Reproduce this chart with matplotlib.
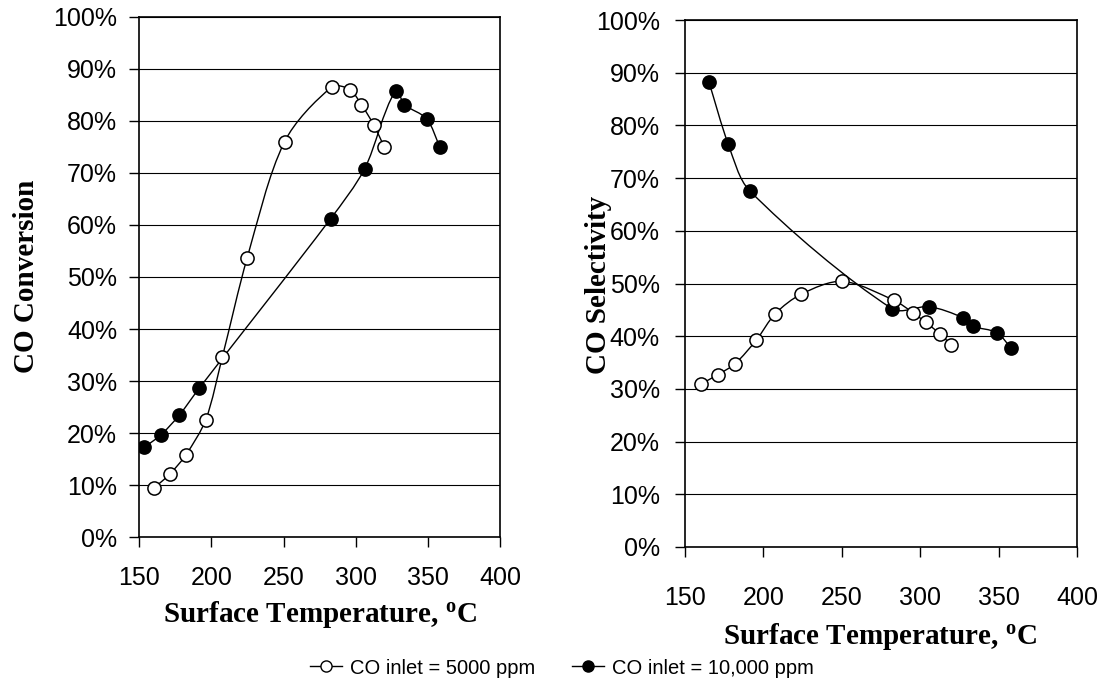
import numpy as np
import matplotlib.pyplot as plt
from matplotlib.path import Path
from matplotlib.patches import PathPatch
from matplotlib.lines import Line2D
from matplotlib.ticker import PercentFormatter

# CO conversion (left panel)
conv_t_5000 = [159.9, 171.0, 182.2, 196.1, 207.6, 224.8, 250.7, 283.5, 295.8, 304.0, 312.5, 319.9]
conv_5000 = [9.4, 12.1, 15.8, 22.6, 34.7, 53.7, 76.0, 86.5, 86.0, 83.1, 79.2, 74.9]
conv_t_10000 = [153.5, 165.1, 177.8, 191.7, 282.6, 306.2, 327.6, 333.8, 349.1, 358.3]
conv_10000 = [17.3, 19.7, 23.5, 28.7, 61.2, 70.8, 85.8, 83.1, 80.4, 75.0]

# CO selectivity (right panel)
sel_t_5000 = [160.0, 170.9, 182.0, 195.5, 207.6, 224.2, 250.3, 283.2, 295.6, 303.4, 312.3, 319.7]
sel_5000 = [30.9, 32.7, 34.8, 39.3, 44.3, 48.0, 50.4, 46.8, 44.4, 42.6, 40.5, 38.3]
sel_t_10000 = [165.2, 177.5, 191.2, 282.0, 305.6, 327.2, 333.4, 348.6, 357.7]
sel_10000 = [88.3, 76.5, 67.6, 45.2, 45.6, 43.5, 41.9, 40.7, 37.8]

labels = ['CO inlet = 5000 ppm', 'CO inlet = 10,000 ppm']

plt.rcParams['font.family'] = ['Liberation Sans', 'DejaVu Sans']


def smooth_line(ax, xs, ys, k=0.3):
    # smoothed line like excel: bezier pieces, tangents from the neighbours
    pts = ax.transData.transform(np.column_stack([xs, ys]))
    n = len(pts)
    tang = []
    for i in range(n):
        d = pts[min(i + 1, n - 1)] - pts[max(i - 1, 0)]
        tang.append(d / np.linalg.norm(d))
    verts = [pts[0]]
    codes = [Path.MOVETO]
    for i in range(n - 1):
        L = np.linalg.norm(pts[i + 1] - pts[i])
        verts += [pts[i] + tang[i] * L * k, pts[i + 1] - tang[i + 1] * L * k, pts[i + 1]]
        codes += [Path.CURVE4] * 3
    verts = ax.transData.inverted().transform(np.array(verts))
    ax.add_patch(PathPatch(Path(verts, codes), facecolor='none', edgecolor='black', lw=1.0, zorder=3))


def draw_series(ax, xs, ys, face):
    smooth_line(ax, xs, ys)
    ax.plot(xs, ys, linestyle='none', marker='o', markersize=9.5, markerfacecolor=face,
            markeredgecolor='black', markeredgewidth=1.1, zorder=4)


def setup(ax):
    ax.set_xlim(150, 400)
    ax.set_ylim(0, 100)
    ax.set_xticks(np.arange(150, 401, 50))
    ax.set_yticks(np.arange(0, 101, 10))
    ax.yaxis.set_major_formatter(PercentFormatter(100, decimals=0))
    ax.grid(axis='y', color='black', lw=0.8)
    ax.set_axisbelow(True)
    for s in ax.spines.values():
        s.set_linewidth(1.2)
    ax.tick_params(direction='out', length=7, width=1.0, labelsize=18)


fig = plt.figure(figsize=(11.06, 6.94), dpi=100)
ax1 = fig.add_axes([139.3 / 1106, 1 - 537.3 / 694, 360.7 / 1106, 520.6 / 694])
ax2 = fig.add_axes([685 / 1106, 1 - 547 / 694, 392.3 / 1106, 527 / 694])

setup(ax1)
ax1.tick_params(axis='x', pad=14)
ax1.tick_params(axis='y', pad=9)
draw_series(ax1, conv_t_10000, conv_10000, 'black')
draw_series(ax1, conv_t_5000, conv_5000, 'white')

setup(ax2)
ax2.tick_params(axis='x', pad=21)
ax2.tick_params(axis='y', pad=11)
draw_series(ax2, sel_t_10000, sel_10000, 'black')
draw_series(ax2, sel_t_5000, sel_5000, 'white')

lab = dict(family=['Liberation Serif', 'DejaVu Serif'], fontweight='bold', fontsize=21)
fig.text(320 / 1106, 1 - 614 / 694, r'Surface Temperature, $\mathregular{^o}$C', ha='center', va='center', **lab)
fig.text(880 / 1106, 1 - 636 / 694, r'Surface Temperature, $\mathregular{^o}$C', ha='center', va='center', **lab)
fig.text(27 / 1106, 1 - 276 / 694, 'CO Conversion', rotation=90, ha='center', va='center', **lab)
fig.text(598 / 1106, 1 - 285 / 694, 'CO Selectivity', rotation=90, ha='center', va='center', **lab)

handles = [Line2D([], [], color='black', lw=1.0, marker='o', markersize=8, markerfacecolor=f,
                  markeredgecolor='black', markeredgewidth=1.0) for f in ['white', 'black']]
fig.legend(handles, labels, loc='center', bbox_to_anchor=(562 / 1106, 1 - 668 / 694), ncol=2,
           frameon=False, fontsize=14.5, handlelength=1.6, handletextpad=0.4, columnspacing=1.8)

fig.savefig('out.png', dpi=100)
